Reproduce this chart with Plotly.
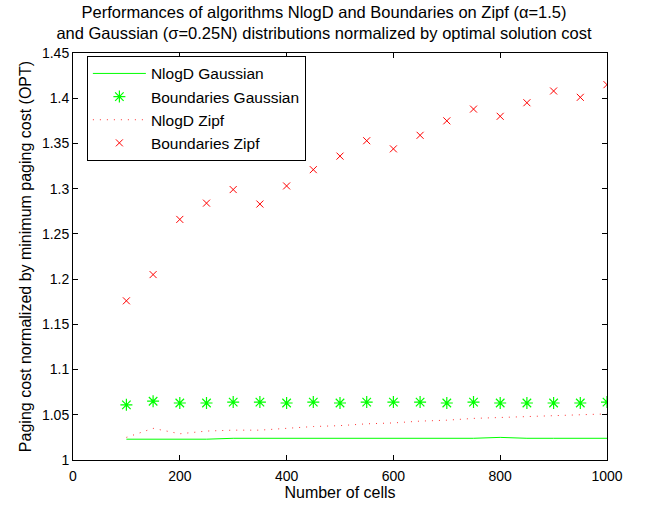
import plotly.graph_objects as go

cells = [100, 150, 200, 250, 300, 350, 400, 450, 500, 550, 600, 650, 700, 750, 800, 850, 900, 950, 1000]
nlogd_gauss = [1.023, 1.023, 1.023, 1.023, 1.024, 1.024, 1.024, 1.024, 1.024, 1.024, 1.024, 1.024, 1.024, 1.024, 1.025, 1.024, 1.024, 1.024, 1.024]
bound_gauss = [1.061, 1.065, 1.063, 1.063, 1.064, 1.064, 1.063, 1.064, 1.063, 1.064, 1.064, 1.064, 1.063, 1.064, 1.063, 1.063, 1.063, 1.063, 1.064]
nlogd_zipf = [1.025, 1.035, 1.029, 1.032, 1.033, 1.033, 1.035, 1.037, 1.038, 1.040, 1.041, 1.043, 1.044, 1.046, 1.047, 1.048, 1.049, 1.050, 1.051]
bound_zipf = [1.176, 1.205, 1.266, 1.284, 1.299, 1.283, 1.303, 1.321, 1.336, 1.353, 1.344, 1.359, 1.375, 1.388, 1.380, 1.395, 1.408, 1.401, 1.415]

xticks = [0, 200, 400, 600, 800, 1000]
yticks = [1, 1.05, 1.1, 1.15, 1.2, 1.25, 1.3, 1.35, 1.4, 1.45]
ytick_labels = ["1", "1.05", "1.1", "1.15", "1.2", "1.25", "1.3", "1.35", "1.4", "1.45"]

fig = go.Figure()
fig.add_trace(go.Scatter(x=cells, y=nlogd_gauss, mode="lines", name="NlogD Gaussian",
                         line=dict(color="#00ff00", width=1)))
fig.add_trace(go.Scatter(x=cells, y=bound_gauss, mode="markers", name="Boundaries Gaussian",
                         marker=dict(symbol="asterisk-open", size=10, color="#00ff00",
                                     line=dict(color="#00ff00", width=1.2))))
fig.add_trace(go.Scatter(x=cells, y=nlogd_zipf, mode="lines", name="NlogD Zipf",
                         line=dict(color="#ff3333", width=1, dash="1px,6px")))
fig.add_trace(go.Scatter(x=cells, y=bound_zipf, mode="markers", name="Boundaries Zipf",
                         marker=dict(symbol="x-thin-open", size=7, color="#ff0000",
                                     line=dict(color="#ff0000", width=1))))

axis_common = dict(showline=True, linecolor="black", linewidth=1, mirror="ticks",
                   ticks="inside", ticklen=5, tickcolor="black", showgrid=False,
                   zeroline=False, tickfont=dict(size=14, color="black"))

fig.update_layout(
    width=648, height=508,
    margin=dict(l=73, r=41, t=53, b=48),
    paper_bgcolor="white", plot_bgcolor="white",
    font=dict(family="Liberation Sans, Arial, sans-serif", size=15, color="black"),
    title=dict(text="Performances of algorithms NlogD and Boundaries on Zipf (α=1.5)<br>and Gaussian (σ=0.25N) distributions normalized by optimal solution cost",
               x=0.5, xanchor="center", y=0.965, yanchor="top",
               font=dict(size=16.5, color="black")),
    xaxis=dict(range=[0, 1000], tickvals=xticks, ticklabelstandoff=3,
               title=dict(text="Number of cells", standoff=1, font=dict(size=16)), **axis_common),
    yaxis=dict(range=[1, 1.45], tickvals=yticks, ticktext=ytick_labels,
               title=dict(text="Paging cost normalized by minimum paging cost (OPT)", standoff=6,
                          font=dict(size=16)), **axis_common),
    legend=dict(x=0.026, y=0.993, xanchor="left", yanchor="top", bgcolor="white",
                bordercolor="black", borderwidth=1, font=dict(size=15.5), itemwidth=53,
                tracegroupgap=0),
    showlegend=True,
)

fig.write_html("out.html")
